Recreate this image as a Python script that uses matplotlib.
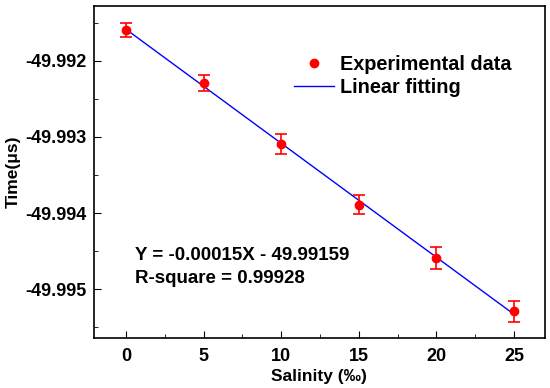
import numpy as np
import matplotlib
matplotlib.use('Agg')
import matplotlib.pyplot as plt
from matplotlib.ticker import MultipleLocator, FormatStrFormatter

plt.rcParams['font.family'] = ['Liberation Sans', 'DejaVu Sans']
plt.rcParams['font.weight'] = 'bold'

salinity = [0, 5, 10, 15, 20, 25]
time_us = [-49.99159, -49.99229, -49.99309, -49.99389, -49.99459, -49.99529]
time_err = [0.000092, 0.0001, 0.00013, 0.000127, 0.000145, 0.00014]
eq_text = 'Y = -0.00015X - 49.99159'
r2_text = 'R-square = 0.99928'

fig = plt.figure(figsize=(5.5, 3.88), dpi=100)
ax = fig.add_axes([93.5/550, 50/388, 451.5/550, 332/388])

k, b = np.polyfit(salinity, time_us, 1)
xs = np.array([salinity[0], salinity[-1]])
ax.plot(xs, k*xs + b, color='blue', lw=1, label='Linear fitting', zorder=2)
ax.errorbar(salinity, time_us, yerr=time_err, fmt='none', ecolor='red',
            elinewidth=1.2, capsize=4.5, capthick=1.2, zorder=3)
ax.plot(salinity, time_us, 'o', color='red', ms=6, ls='none',
        label='Experimental data', zorder=4)

ax.set_xlim(-2.09, 27.0)
ax.set_ylim(-49.99564, -49.99128)
ax.xaxis.set_major_locator(MultipleLocator(5))
ax.xaxis.set_minor_locator(MultipleLocator(2.5))
ax.yaxis.set_major_locator(MultipleLocator(0.001))
ax.yaxis.set_minor_locator(MultipleLocator(0.0005))
ax.yaxis.set_major_formatter(FormatStrFormatter('%.3f'))
ax.tick_params(which='both', direction='in', labelsize=13)
ax.tick_params(which='major', length=5, pad=5)
ax.tick_params(axis='x', which='major', pad=7)
ax.tick_params(which='minor', length=3)
for s in ax.spines.values():
    s.set_linewidth(1.2)

ax.set_xlabel('Salinity (‰)', fontsize=12.5, fontweight='bold', labelpad=3)
ax.set_ylabel('Time(μs)', fontsize=12.5, fontweight='bold', labelpad=3)

h, l = ax.get_legend_handles_labels()
ax.legend(h[::-1], l[::-1], loc='upper left', bbox_to_anchor=(0.405, 0.905),
          frameon=False, fontsize=14.3, handlelength=2.0, handletextpad=0.3,
          labelspacing=0.2)

ax.text(0.092, 0.25, eq_text, transform=ax.transAxes, fontsize=13.5,
        fontweight='bold', va='center')
ax.text(0.092, 0.178, r2_text, transform=ax.transAxes, fontsize=13.5,
        fontweight='bold', va='center')

fig.savefig('out.png', dpi=100)
